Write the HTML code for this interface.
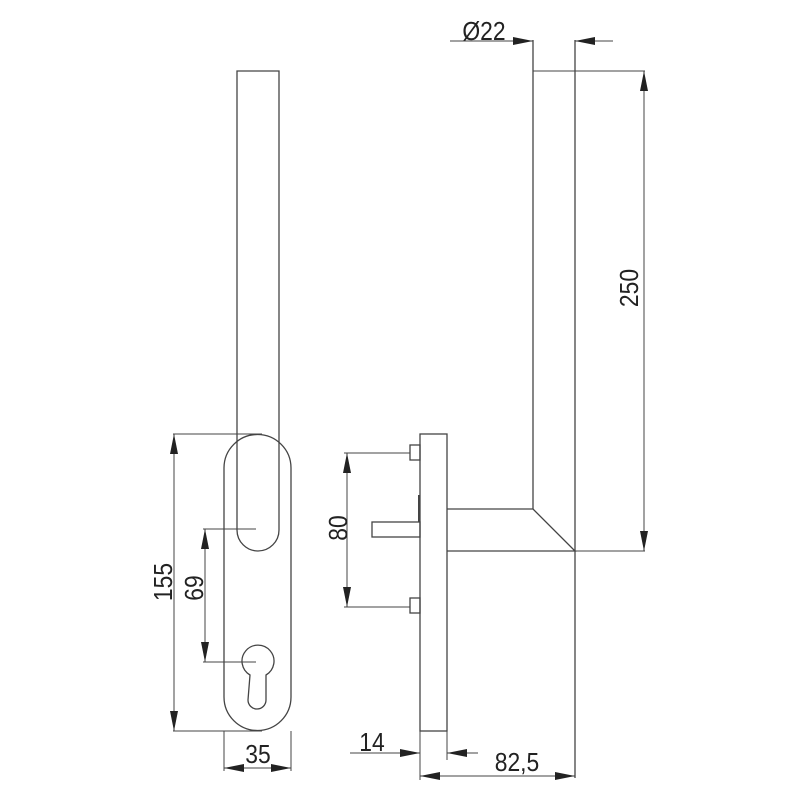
<!DOCTYPE html>
<html><head><style>body{margin:0;background:#fff}svg{display:block}</style></head><body>
<svg width="800" height="800" viewBox="0 0 800 800" xmlns="http://www.w3.org/2000/svg">
<defs>
<marker id="a" viewBox="0 0 20 8" refX="20" refY="4" markerWidth="20" markerHeight="8" markerUnits="userSpaceOnUse" orient="auto-start-reverse"><path d="M0,0L20,4L0,8z" fill="#222"/></marker>
</defs>
<g fill="none" stroke="#444" stroke-width="1.3">
<path d="M237,71H279V530A21,21 0 0 1 237,530Z"/>
<path d="M224,468A33.5,33.5 0 0 1 291,468V697A33.5,33.5 0 0 1 224,697Z"/>
<path d="M250,675A16,16 0 1 1 266,675V700A8,8 0 0 1 248,700Z"/>
<path d="M173,434H262M173,731H262" stroke-width="1"/>
<line x1="174" y1="434" x2="174" y2="731" stroke-width="1" marker-start="url(#a)" marker-end="url(#a)"/>
<path d="M203,529H256M203,662H256" stroke-width="1"/>
<line x1="205" y1="529" x2="205" y2="662" stroke-width="1" marker-start="url(#a)" marker-end="url(#a)"/>
<path d="M224,731V771M291,731V771" stroke-width="1"/>
<line x1="224" y1="768" x2="291" y2="768" stroke-width="1" marker-start="url(#a)" marker-end="url(#a)"/>
<rect x="420" y="434" width="27" height="297"/>
<rect x="410" y="445" width="10" height="15"/>
<rect x="410" y="598" width="10" height="15"/>
<rect x="372" y="522" width="48" height="15"/>
<line x1="419" y1="495" x2="419" y2="522" stroke-width="2"/>
<path d="M447,509H533L575,551H447"/>
<path d="M533,509V40M575,40V778"/>
<path d="M533,71H645M575,551H645" stroke-width="1"/>
<line x1="644" y1="71" x2="644" y2="551" stroke-width="1" marker-start="url(#a)" marker-end="url(#a)"/>
<path d="M450,41H533" stroke-width="1"/>
<line x1="510" y1="41" x2="533" y2="41" stroke-width="1" marker-end="url(#a)"/>
<line x1="613" y1="41" x2="575" y2="41" stroke-width="1" marker-end="url(#a)"/>
<path d="M344,453H410M344,607H410" stroke-width="1"/>
<line x1="347" y1="453" x2="347" y2="607" stroke-width="1" marker-start="url(#a)" marker-end="url(#a)"/>
<path d="M420,731V780M447,731V760" stroke-width="1"/>
<line x1="350" y1="753" x2="420" y2="753" stroke-width="1" marker-end="url(#a)"/>
<line x1="478" y1="753" x2="447" y2="753" stroke-width="1" marker-end="url(#a)"/>
<line x1="420" y1="776" x2="575" y2="776" stroke-width="1" marker-start="url(#a)" marker-end="url(#a)"/>
</g>
<g font-family="Liberation Sans, sans-serif" font-size="26" fill="#222" text-anchor="middle">
<text transform="translate(484,40) scale(0.88,1)">Ø22</text>
<text transform="translate(258,763) scale(0.88,1)">35</text>
<text transform="translate(372,751) scale(0.88,1)">14</text>
<text transform="translate(517,771) scale(0.88,1)">82,5</text>
<text transform="translate(638,288) rotate(-90) scale(0.88,1)">250</text>
<text transform="translate(347,528) rotate(-90) scale(0.88,1)">80</text>
<text transform="translate(172,582) rotate(-90) scale(0.88,1)">155</text>
<text transform="translate(203,588) rotate(-90) scale(0.88,1)">69</text>
</g>
</svg>
</body></html>
